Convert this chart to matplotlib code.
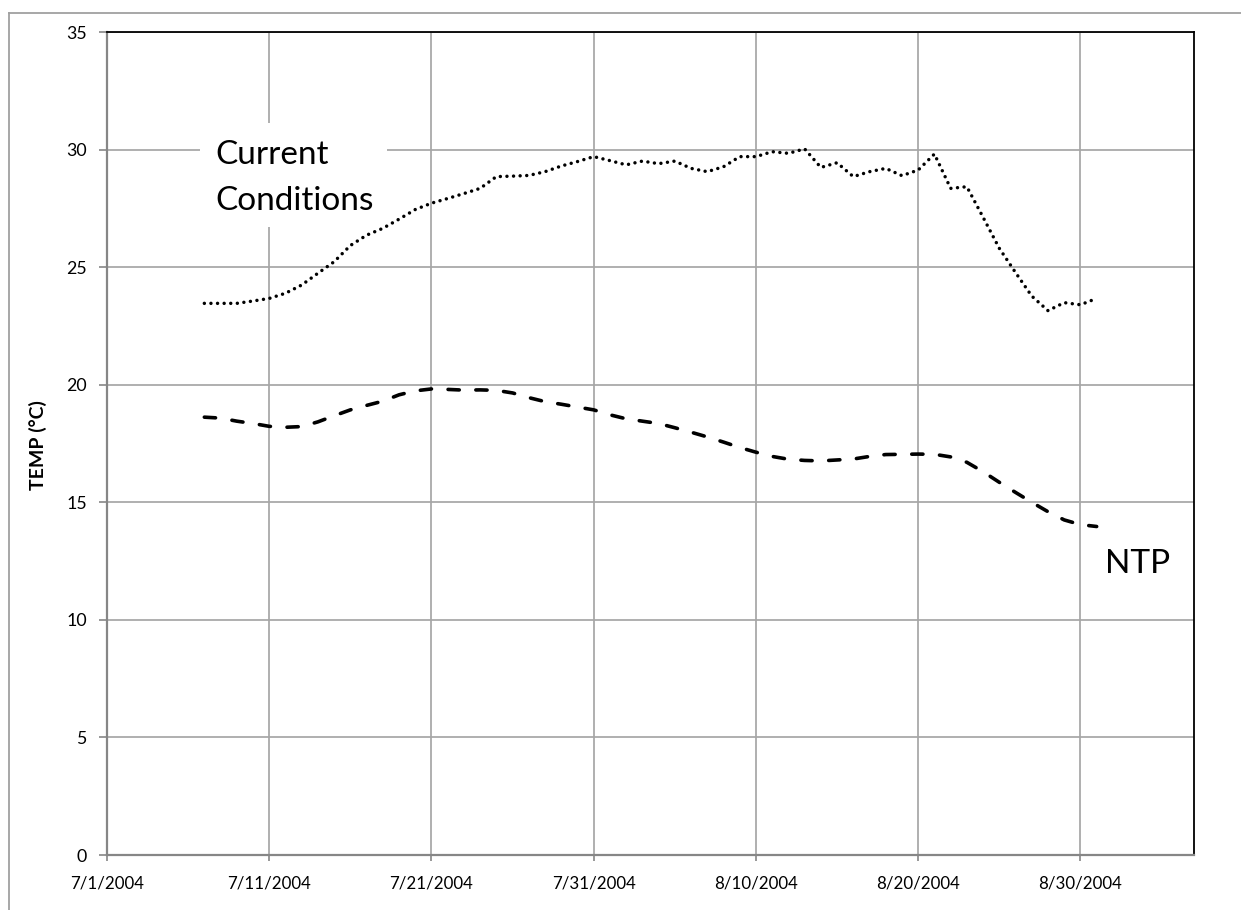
import matplotlib
matplotlib.use("Agg")
import matplotlib.pyplot as plt
from matplotlib.lines import Line2D
from matplotlib.patches import Rectangle
import pandas as pd

# Daily water temperatures, 7/7/2004 - 8/31/2004
start_date = "2004-07-07"
end_date = "2004-08-31"

current_conditions = [
    23.46, 23.46, 23.46, 23.56, 23.67, 23.89, 24.24, 24.74, 25.23, 25.92,
    26.36, 26.65, 27.04, 27.45, 27.72, 27.92, 28.13, 28.35, 28.85, 28.87,
    28.90, 29.06, 29.30, 29.49, 29.70, 29.53, 29.35, 29.51, 29.40, 29.51,
    29.20, 29.06, 29.27, 29.70, 29.70, 29.91, 29.84, 30.03, 29.24, 29.44,
    28.85, 29.06, 29.20, 28.89, 29.13, 29.81, 28.35, 28.42, 27.12, 25.80,
    24.77, 23.77, 23.15, 23.49, 23.40, 23.67,
]

ntp = [
    18.62, 18.58, 18.45, 18.35, 18.23, 18.19, 18.22, 18.42, 18.68, 18.93,
    19.12, 19.30, 19.57, 19.74, 19.82, 19.80, 19.77, 19.78, 19.76, 19.65,
    19.45, 19.28, 19.17, 19.05, 18.93, 18.72, 18.55, 18.45, 18.35, 18.17,
    17.98, 17.78, 17.56, 17.33, 17.13, 16.95, 16.83, 16.78, 16.76, 16.80,
    16.84, 16.95, 17.03, 17.04, 17.05, 17.04, 16.93, 16.70, 16.30, 15.85,
    15.42, 15.00, 14.60, 14.25, 14.05, 13.97,
]

x_start = "2004-07-01"
x_end = "2004-09-06"
x_tick_step_days = 10
y_ticks = [0, 5, 10, 15, 20, 25, 30, 35]
y_label = "TEMP (°C)"

dates = pd.date_range(start_date, end_date, freq="D")
x_ticks = pd.date_range(x_start, x_end, freq=f"{x_tick_step_days}D")
x_tick_labels = [f"{d.month}/{d.day}/{d.year}" for d in x_ticks]

W, H = 1241, 910
fig = plt.figure(figsize=(W / 100, H / 100), dpi=100)
fig.patch.set_facecolor("white")

font = "Lato"
grid_c = "#a6a6a6"
axis_c = "#868686"

ax = fig.add_axes([107 / W, 1 - 855 / H, (1194 - 107) / W, (855 - 32) / H])

ax.plot(dates, current_conditions, color="black", lw=2.5,
        dashes=(0.001, 1.9), dash_capstyle="round", zorder=3)
ax.plot(dates, ntp, color="black", lw=2.6,
        dashes=(3.1, 4.6), dash_capstyle="round", zorder=3)

ax.set_xlim(pd.Timestamp(x_start), pd.Timestamp(x_end))
ax.set_ylim(y_ticks[0], y_ticks[-1])
ax.set_xticks(x_ticks)
ax.set_xticklabels(x_tick_labels, fontfamily=font, fontsize=12.2)
ax.set_yticks(y_ticks)
ax.set_yticklabels([str(v) for v in y_ticks], fontfamily=font, fontsize=12.8)

ax.set_axisbelow(True)
ax.grid(True, color=grid_c, lw=1.25)

for side in ("left", "bottom"):
    ax.spines[side].set_color(axis_c)
    ax.spines[side].set_linewidth(1.6)
for side in ("top", "right"):
    ax.spines[side].set_color("black")
    ax.spines[side].set_linewidth(1.3)

ax.tick_params(axis="y", direction="out", length=5.5, width=1.2,
               color=axis_c, pad=9)
ax.tick_params(axis="x", direction="out", length=4, width=1.2,
               color=axis_c, pad=10.5)

# series labels
ax.add_patch(Rectangle((0.0856, 0.7631), 0.172, 0.1263, transform=ax.transAxes,
                       facecolor="white", edgecolor="none", zorder=1))
ax.text(0.0994, 0.7837, "Current\nConditions", transform=ax.transAxes,
        fontfamily=font, fontsize=24, ha="left", va="baseline",
        linespacing=1.68, zorder=4)
ax.text(0.9181, 0.3426, "NTP", transform=ax.transAxes,
        fontfamily=font, fontsize=24, ha="left", va="baseline", zorder=4)

fig.text(38 / W, 1 - 445 / H, y_label, rotation=90, ha="center", va="center",
         fontfamily=font, fontweight="bold", fontsize=14)

# chart frame
fx, fy = 9 / W, 1 - 13 / H
fig.add_artist(Line2D([fx, fx], [fy, 0], transform=fig.transFigure,
                      color="#a0a0a0", lw=1.3))
fig.add_artist(Line2D([fx, 1], [fy, fy], transform=fig.transFigure,
                      color="#a0a0a0", lw=1.3))

fig.savefig("out.png", dpi=100, facecolor="white")
